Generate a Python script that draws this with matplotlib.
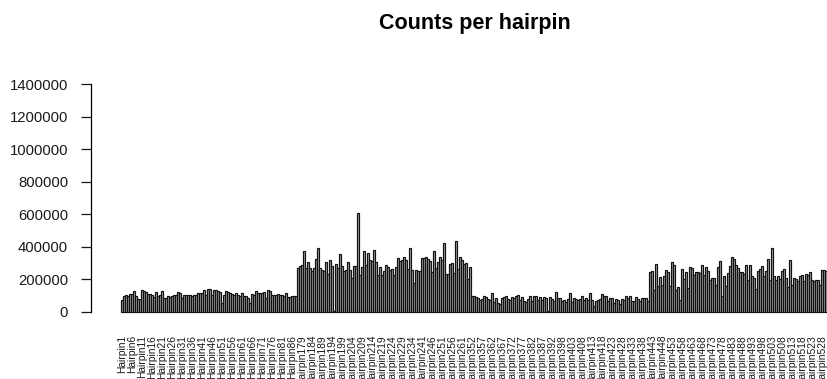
import matplotlib
matplotlib.use("Agg")
import matplotlib.pyplot as plt
import numpy as np

plt.rcParams['font.family'] = ['Liberation Sans', 'DejaVu Sans']

# hairpin numbering segments (first, last) present in the data
hairpin_segments = [(1, 90), (179, 238), (241, 265), (352, 396), (398, 530)]

counts_a = [76000, 100000, 104000, 100000, 110000, 110000, 127000, 100000, 80000, 80000,
            137000, 127000, 123000, 110000, 110000, 106000, 92000, 120000, 96000, 106000,
            127000, 86000, 88000, 96000, 92000, 96000, 106000, 104000, 123000, 117000,
            86000, 102000, 104000, 102000, 102000, 100000, 104000, 102000, 117000, 115000,
            117000, 137000, 106000, 143000, 141000, 106000, 137000, 135000, 127000, 120000,
            55000, 106000, 127000, 125000, 117000, 112000, 106000, 117000, 106000, 100000,
            117000, 96000, 96000, 86000, 55000, 112000, 106000, 127000, 117000, 115000,
            117000, 120000, 86000, 137000, 127000, 106000, 102000, 106000, 112000, 102000,
            106000, 96000, 117000, 92000, 92000, 96000, 96000, 100000]

counts_b = [270000, 285000, 290000, 372000, 270000, 305000, 270000, 250000, 270000, 325000,
            393000, 270000, 260000, 254000, 305000, 235000, 317000, 284000, 3000, 296000,
            270000, 358000, 280000, 254000, 260000, 305000, 260000, 209000, 280000, 280000,
            607000, 229000, 274000, 376000, 290000, 362000, 321000, 315000, 380000, 305000,
            229000, 276000, 229000, 250000, 288000, 276000, 260000, 264000, 229000, 276000,
            331000, 311000, 317000, 335000, 317000, 264000, 393000, 260000, 178000, 260000,
            254000, 250000, 329000, 329000, 335000, 325000, 311000, 243000, 372000, 268000,
            305000, 335000, 321000, 423000, 235000, 235000, 296000, 300000, 239000, 437000,
            264000, 335000, 321000, 296000, 300000, 202000, 274000]

counts_c = [96000, 96000, 90000, 86000, 76000, 80000, 100000, 90000, 80000, 76000,
            117000, 59000, 86000, 55000, 49000, 86000, 90000, 96000, 82000, 76000,
            90000, 84000, 100000, 106000, 72000, 90000, 65000, 59000, 80000, 100000,
            65000, 96000, 96000, 76000, 90000, 72000, 90000, 86000, 5000, 92000,
            82000, 65000, 121000, 88000, 84000, 70000, 72000, 63000, 80000, 117000,
            59000, 86000, 82000, 72000, 80000, 96000, 76000, 86000, 76000, 117000,
            76000, 39000, 65000, 76000, 82000, 110000, 96000, 96000, 65000, 86000,
            86000, 55000, 82000, 76000, 51000, 80000, 72000, 100000, 86000, 96000,
            65000, 65000, 90000, 82000, 65000, 86000, 86000, 86000, 65000]

counts_d = [243000, 250000, 137000, 294000, 157000, 213000, 168000, 219000, 256000, 243000,
            157000, 309000, 290000, 137000, 151000, 76000, 264000, 202000, 243000, 147000,
            274000, 270000, 229000, 243000, 243000, 239000, 290000, 229000, 276000, 250000,
            198000, 209000, 209000, 168000, 276000, 311000, 96000, 219000, 162000, 239000,
            280000, 335000, 325000, 290000, 270000, 243000, 245000, 233000, 290000, 194000,
            288000, 219000, 209000, 141000, 250000, 264000, 280000, 223000, 250000, 327000,
            194000, 393000, 219000, 194000, 219000, 202000, 254000, 264000, 209000, 151000,
            321000, 168000, 209000, 205000, 188000, 219000, 229000, 188000, 233000, 229000,
            245000, 198000, 188000, 198000, 198000, 168000, 256000, 256000, 250000]

y_ticks = [0, 200000, 400000, 600000, 800000, 1000000, 1200000, 1400000]
title = "Counts per hairpin"

names = []
for a, b in hairpin_segments:
    names += ["Hairpin%d" % k for k in range(a, b + 1)]
counts = counts_a + counts_b + counts_c + counts_d
names = names[:len(counts)]
x = np.arange(len(counts))

fig = plt.figure(figsize=(8.28, 3.79), dpi=100)
ax = fig.add_axes([91 / 828, 0.1528, 1 - 91 / 828, 0.6496])
ax.bar(x, counts, width=1 / 1.2, color='#A0A0A0', edgecolor='#111111', linewidth=0.85)

ax.set_xlim(-15.35, 353.15)
ax.set_ylim(-56000, 1456000)
for s in ['top', 'right', 'bottom']:
    ax.spines[s].set_visible(False)
ax.spines['left'].set_bounds(0, 1400000)
ax.spines['left'].set_linewidth(0.9)

ax.set_yticks(y_ticks)
ax.set_yticklabels([str(v) for v in y_ticks])
ax.tick_params(axis='y', length=7, width=0.9, pad=9.4, labelsize=10.7, colors='#1a1a1a')

tick_idx = x[::5]
ax.set_xticks(tick_idx)
ax.set_xticklabels([names[i] for i in tick_idx], rotation=90)
ax.tick_params(axis='x', length=0, pad=10, labelsize=7.4, colors='#1a1a1a')

fig.text(475 / 828, 1 - 29 / 379, title, ha='center', va='baseline',
         fontsize=15.5, fontweight='bold')

fig.savefig("out.png", dpi=100)
